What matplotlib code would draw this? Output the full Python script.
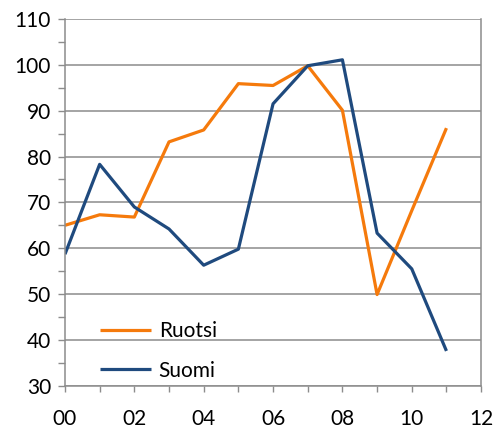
import numpy as np
import matplotlib
matplotlib.use('Agg')
import matplotlib.pyplot as plt
from matplotlib.ticker import MultipleLocator

plt.rcParams['font.family'] = ['Lato', 'DejaVu Sans']

years = [0, 1, 2, 3, 4, 5, 6, 7, 8, 9, 10, 11]
ruotsi = [65.0, 67.3, 66.8, 83.2, 85.8, 95.9, 95.5, 99.8, 90.1, 49.9, 68.2, 86.2]
suomi = [58.7, 78.3, 69.0, 64.2, 56.3, 59.8, 91.5, 99.8, 101.1, 63.3, 55.5, 37.6]
xticklabels = ['00', '02', '04', '06', '08', '10', '12']

grey = '#8c8c8c'
fig = plt.figure(figsize=(4.96, 4.32), dpi=100)
ax = fig.add_axes([0.131, 0.107, 0.839, 0.849])

ax.plot(years, ruotsi, color='#F57A0C', lw=2.3, label='Ruotsi', solid_capstyle='butt')
ax.plot(years, suomi, color='#1F4A7E', lw=2.3, label='Suomi', solid_capstyle='butt')

ax.set_xlim(0, 12)
ax.set_ylim(30, 110)
ax.xaxis.set_major_locator(MultipleLocator(2))
ax.xaxis.set_minor_locator(MultipleLocator(1))
ax.yaxis.set_major_locator(MultipleLocator(10))
ax.yaxis.set_minor_locator(MultipleLocator(5))
ax.set_xticks(range(0, 13, 2))
ax.set_xticklabels(xticklabels)

ax.grid(axis='y', which='major', color=grey, lw=1.1)
for s in ['left', 'bottom', 'right']:
    ax.spines[s].set_color(grey)
    ax.spines[s].set_linewidth(1.1)
ax.spines['top'].set_visible(False)

ax.tick_params(axis='both', which='both', color=grey, width=1, labelsize=15, labelcolor='black')
ax.tick_params(axis='y', which='both', length=5, pad=5)
ax.tick_params(axis='x', which='both', length=4, pad=13)

ax.legend(loc='lower left', bbox_to_anchor=(0.04, -0.037), frameon=False, fontsize=15,
          handlelength=2.45, handletextpad=0.35, labelspacing=0.95)

fig.savefig('out.png', dpi=100)
